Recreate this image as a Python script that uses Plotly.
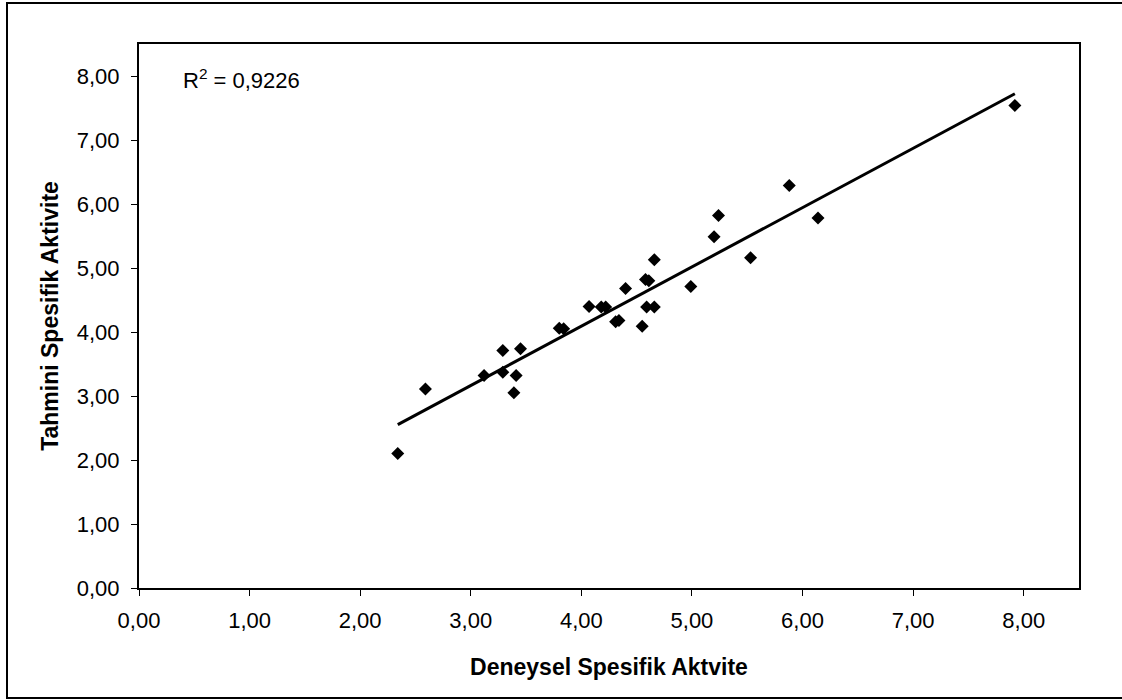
import numpy as np
import plotly.graph_objects as go

# Experimental (x) vs predicted (y) specific activity
deneysel = [2.34, 2.59, 3.12, 3.29, 3.29, 3.45, 3.41, 3.39, 3.80, 3.84,
            4.07, 4.18, 4.22, 4.31, 4.34, 4.40, 4.55, 4.58, 4.61, 4.59,
            4.66, 4.66, 4.99, 5.20, 5.24, 5.53, 5.88, 6.14, 7.92]
tahmini = [2.10, 3.11, 3.32, 3.71, 3.37, 3.74, 3.32, 3.05, 4.06, 4.05,
           4.40, 4.39, 4.39, 4.16, 4.18, 4.68, 4.09, 4.82, 4.80, 4.39,
           4.39, 5.13, 4.71, 5.49, 5.82, 5.16, 6.29, 5.78, 7.54]
tick_vals = [0, 1, 2, 3, 4, 5, 6, 7, 8]
r2_text = "R<sup>2</sup> = 0,9226"

x = np.array(deneysel)
y = np.array(tahmini)
slope, intercept = np.polyfit(x, y, 1)
line_x = [x.min(), x.max()]
line_y = [slope * v + intercept for v in line_x]

fig = go.Figure()
fig.add_trace(go.Scatter(x=line_x, y=line_y, mode="lines",
                         line=dict(color="black", width=3), hoverinfo="skip",
                         showlegend=False))
fig.add_trace(go.Scatter(x=deneysel, y=tahmini, mode="markers",
                         marker=dict(symbol="diamond", size=10, color="black"),
                         showlegend=False))

font_family = "Liberation Sans, Arial, sans-serif"
axis_common = dict(range=[0, 8.5], tickvals=tick_vals, tickformat=".2f",
                   showgrid=False, zeroline=False, showline=True,
                   linecolor="black", linewidth=2, mirror=True,
                   ticks="outside", ticklen=6, tickcolor="black", tickwidth=1,
                   tickfont=dict(family=font_family, size=22, color="black"))

fig.update_layout(
    width=1122, height=700,
    margin=dict(l=139, r=43, t=44, b=112),
    paper_bgcolor="white", plot_bgcolor="white",
    separators=",.",
    font=dict(family=font_family, color="black"),
    xaxis=dict(**axis_common, ticklabelstandoff=6,
               title=dict(text="<b>Deneysel Spesifik Aktvite</b>",
                          font=dict(family=font_family, size=23), standoff=26)),
    yaxis=dict(**axis_common, ticklabelstandoff=7,
               title=dict(text="<b>Tahmini Spesifik Aktivite</b>",
                          font=dict(family=font_family, size=23), standoff=12)),
    annotations=[dict(text=r2_text, xref="paper", yref="paper",
                      x=(181 - 139) / 940, y=(588 - 79) / 544,
                      xanchor="left", yanchor="middle", showarrow=False,
                      font=dict(family=font_family, size=22, color="black"))],
    shapes=[dict(type="rect", xref="paper", yref="paper",
                 x0=(7 - 139) / 940, x1=(1140 - 139) / 940,
                 y0=(588 - 698) / 544, y1=(588 - 3) / 544,
                 line=dict(color="black", width=2), fillcolor="rgba(0,0,0,0)",
                 layer="below")],
)

fig.write_html("out.html", config={"displayModeBar": False},
               post_script="document.body.style.margin='0';")
